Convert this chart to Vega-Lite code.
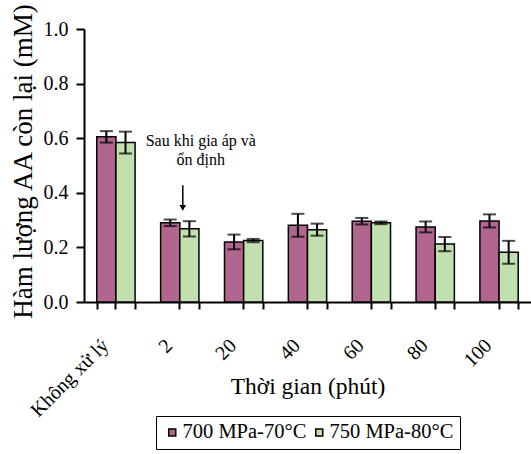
{
  "$schema": "https://vega.github.io/schema/vega-lite/v6.json",
  "autosize": {"type": "none"},
  "padding": {"left": 84, "top": 29, "right": 0, "bottom": 152},
  "width": 447,
  "height": 273,
  "config": {
    "font": "Liberation Serif",
    "view": {"stroke": null},
    "axis": {"labelColor": "black", "titleColor": "black", "domainColor": "black", "titleFontWeight": "normal", "grid": false, "labelFont": "Liberation Serif", "titleFont": "Liberation Serif"},
    "axisY": {"ticks": true, "tickSize": 8, "tickWidth": 2, "tickColor": "#000000", "tickOpacity": 1},
    "legend": {"labelFont": "Liberation Serif"},
    "text": {"font": "Liberation Serif"}
  },
  "data": {
    "values": [
      {"t": "Không xử lý", "s": "700 MPa-70°C", "v": 0.605, "e": 0.021},
      {"t": "Không xử lý", "s": "750 MPa-80°C", "v": 0.584, "e": 0.040},
      {"t": "2", "s": "700 MPa-70°C", "v": 0.290, "e": 0.012},
      {"t": "2", "s": "750 MPa-80°C", "v": 0.268, "e": 0.028},
      {"t": "20", "s": "700 MPa-70°C", "v": 0.220, "e": 0.027},
      {"t": "20", "s": "750 MPa-80°C", "v": 0.225, "e": 0.006},
      {"t": "40", "s": "700 MPa-70°C", "v": 0.281, "e": 0.042},
      {"t": "40", "s": "750 MPa-80°C", "v": 0.265, "e": 0.022},
      {"t": "60", "s": "700 MPa-70°C", "v": 0.296, "e": 0.012},
      {"t": "60", "s": "750 MPa-80°C", "v": 0.290, "e": 0.005},
      {"t": "80", "s": "700 MPa-70°C", "v": 0.275, "e": 0.020},
      {"t": "80", "s": "750 MPa-80°C", "v": 0.212, "e": 0.026},
      {"t": "100", "s": "700 MPa-70°C", "v": 0.297, "e": 0.024},
      {"t": "100", "s": "750 MPa-80°C", "v": 0.182, "e": 0.042}
    ]
  },
  "resolve": {"axis": {"x": "independent"}},
  "layer": [
    {
      "mark": {"type": "bar", "stroke": "black", "strokeWidth": 1.5},
      "encoding": {
        "x": {
          "field": "t", "type": "nominal",
          "sort": ["Không xử lý", "2", "20", "40", "60", "80", "100"],
          "scale": {"paddingInner": 0.4, "paddingOuter": 0.2},
          "axis": {
            "orient": "bottom",
            "title": "Thời gian (phút)", "titleFontSize": 23.5, "titleY": 84, "titleBaseline": "middle",
            "labelAngle": -45, "labelAlign": "right", "labelBaseline": "top", "labelFontSize": 20, "labelPadding": 26, "labelOffset": -18,
            "ticks": true, "tickBand": "extent", "tickSize": 7, "tickWidth": 2, "tickColor": "#000000", "domainWidth": 2
          }
        },
        "xOffset": {"field": "s", "sort": ["700 MPa-70°C", "750 MPa-80°C"]},
        "y": {
          "field": "v", "type": "quantitative",
          "title": "Hàm lượng AA còn lại (mM)",
          "scale": {"domain": [0, 1]},
          "axis": {
            "titleFontSize": 27, "titleX": -61, "titleY": 132, "titleBaseline": "middle",
            "values": [0, 0.05, 0.1, 0.15, 0.2, 0.25, 0.3, 0.35, 0.4, 0.45, 0.5, 0.55, 0.6, 0.65, 0.7, 0.75, 0.8, 0.85, 0.9, 0.95, 1.0],
            "labelExpr": "round(datum.value * 20) % 4 === 0 ? format(datum.value, '.1f') : ''",
            "ticks": true, "tickSize": 8, "tickWidth": 2, "tickColor": "#000000",
            "labelFontSize": 20, "labelPadding": 8, "domainWidth": 2
          }
        },
        "fill": {
          "field": "s", "type": "nominal",
          "scale": {"domain": ["700 MPa-70°C", "750 MPa-80°C"], "range": ["#B0668F", "#C2DFAF"]},
          "legend": {
            "title": null, "orient": "none", "legendX": 72, "legendY": 387, "direction": "horizontal",
            "strokeColor": "black", "fillColor": "white", "padding": 6,
            "labelFont": "Liberation Serif", "labelFontSize": 20.5, "labelColor": "black", "labelOffset": 0,
            "symbolType": "square", "symbolSize": 49, "symbolStrokeColor": "black", "symbolStrokeWidth": 1.5, "columnPadding": 2
          }
        }
      }
    },
    {
      "mark": {"type": "errorbar", "ticks": {"size": 13, "thickness": 2, "color": "black"}, "rule": {"strokeWidth": 2, "color": "black"}},
      "encoding": {
        "x": {
          "field": "t", "type": "nominal",
          "sort": ["Không xử lý", "2", "20", "40", "60", "80", "100"],
          "axis": {"orient": "bottom", "labels": false, "domain": false, "title": null, "ticks": true, "tickSize": 7, "tickWidth": 2, "tickColor": "#000000"}
        },
        "xOffset": {"field": "s", "sort": ["700 MPa-70°C", "750 MPa-80°C"]},
        "y": {
          "field": "v", "type": "quantitative", "title": "Hàm lượng AA còn lại (mM)",
          "axis": {"ticks": true, "tickSize": 8, "tickWidth": 2, "tickColor": "#000000"}
        },
        "yError": {"field": "e"}
      }
    },
    {
      "data": {"values": [{"t": "2", "y": 0.59, "label": "Sau khi gia áp và"}, {"t": "2", "y": 0.52, "label": "ổn định"}]},
      "mark": {"type": "text", "font": "Liberation Serif", "fontSize": 16, "align": "center", "baseline": "middle", "dx": 21, "color": "black"},
      "encoding": {
        "x": {"field": "t", "type": "nominal", "sort": ["Không xử lý", "2", "20", "40", "60", "80", "100"], "axis": null},
        "y": {"field": "y", "type": "quantitative", "title": "Hàm lượng AA còn lại (mM)"},
        "text": {"field": "label"}
      }
    },
    {
      "data": {"values": [{"t": "2", "y": 0.428, "y2": 0.35}]},
      "mark": {"type": "rule", "color": "black", "strokeWidth": 1.5, "xOffset": 3},
      "encoding": {
        "x": {"field": "t", "type": "nominal", "sort": ["Không xử lý", "2", "20", "40", "60", "80", "100"], "axis": null},
        "y": {"field": "y", "type": "quantitative", "title": "Hàm lượng AA còn lại (mM)"},
        "y2": {"field": "y2"}
      }
    },
    {
      "data": {"values": [{"t": "2", "y": 0.345}]},
      "mark": {"type": "point", "shape": "triangle-down", "filled": true, "color": "black", "size": 45, "opacity": 1, "xOffset": 3},
      "encoding": {
        "x": {"field": "t", "type": "nominal", "sort": ["Không xử lý", "2", "20", "40", "60", "80", "100"], "axis": null},
        "y": {"field": "y", "type": "quantitative", "title": "Hàm lượng AA còn lại (mM)"}
      }
    }
  ]
}
